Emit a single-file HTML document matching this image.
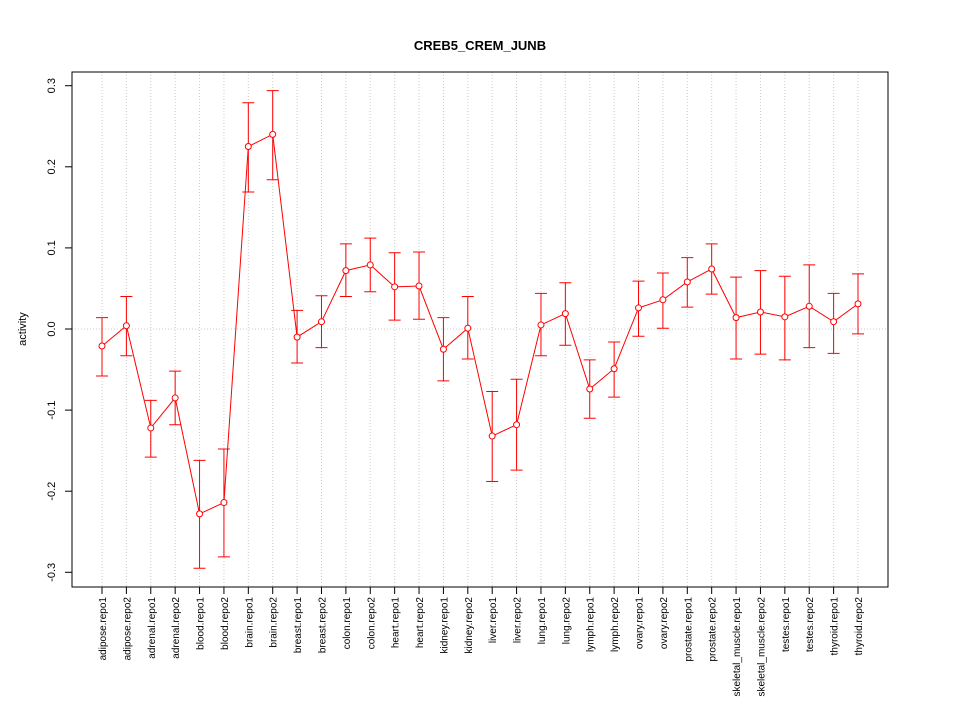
<!DOCTYPE html>
<html><head><meta charset="utf-8"><style>body{margin:0;background:#fff}svg{display:block}text{font-family:"Liberation Sans",sans-serif}</style></head>
<body>
<svg id="chart" width="960" height="720">
<rect width="960" height="720" fill="#fff"/>
<text x="480" y="50" text-anchor="middle" font-size="13" font-weight="bold">CREB5_CREM_JUNB</text>
<text transform="translate(26,329) rotate(-90)" text-anchor="middle" font-size="11">activity</text>
<g id="grid"></g><g id="axes"></g><g id="marks"></g>
<rect x="72" y="72" width="816" height="515" fill="none" stroke="#000"/>
</svg>
<script>
const categories=["adipose.repo1","adipose.repo2","adrenal.repo1","adrenal.repo2","blood.repo1","blood.repo2","brain.repo1","brain.repo2","breast.repo1","breast.repo2","colon.repo1","colon.repo2","heart.repo1","heart.repo2","kidney.repo1","kidney.repo2","liver.repo1","liver.repo2","lung.repo1","lung.repo2","lymph.repo1","lymph.repo2","ovary.repo1","ovary.repo2","prostate.repo1","prostate.repo2","skeletal_muscle.repo1","skeletal_muscle.repo2","testes.repo1","testes.repo2","thyroid.repo1","thyroid.repo2"];
const values=[-0.021,0.004,-0.122,-0.085,-0.228,-0.214,0.225,0.240,-0.010,0.009,0.072,0.079,0.052,0.053,-0.025,0.001,-0.132,-0.118,0.005,0.019,-0.074,-0.049,0.026,0.036,0.058,0.074,0.014,0.021,0.015,0.028,0.009,0.031];
const upper=[0.014,0.040,-0.088,-0.052,-0.162,-0.148,0.279,0.294,0.023,0.041,0.105,0.112,0.094,0.095,0.014,0.040,-0.077,-0.062,0.044,0.057,-0.038,-0.016,0.059,0.069,0.088,0.105,0.064,0.072,0.065,0.079,0.044,0.068];
const lower=[-0.058,-0.033,-0.158,-0.118,-0.295,-0.281,0.169,0.184,-0.042,-0.023,0.040,0.046,0.011,0.012,-0.064,-0.037,-0.188,-0.174,-0.033,-0.020,-0.110,-0.084,-0.009,0.001,0.027,0.043,-0.037,-0.031,-0.038,-0.023,-0.030,-0.006];
const yTicks=[-0.3,-0.2,-0.1,0.0,0.1,0.2,0.3];
const yTickLabels=["-0.3","-0.2","-0.1","0.0","0.1","0.2","0.3"];
const NS="http://www.w3.org/2000/svg";
function y(v){return 329-v*811;}
function x(i){return 102+i*(858-102)/(categories.length-1);}
function mk(t,a,p){const e=document.createElementNS(NS,t);for(const k in a)e.setAttribute(k,a[k]);document.getElementById(p).appendChild(e);return e;}
const grid='grid',axes='axes',marks='marks';
categories.forEach((c,i)=>{
 const g=mk('line',{x1:x(i),x2:x(i),y1:72,y2:587,stroke:'#ccc','stroke-dasharray':'1,2'},grid);
 
 
 const t=mk('line',{x1:x(i),x2:x(i),y1:587,y2:594,stroke:'#000'},axes);
 
 
 const l=mk('text',{transform:`translate(${x(i)+4},597) rotate(-90)`,'text-anchor':'end','font-size':'10'},axes);
 l.textContent=c;
 
 
});
const z=mk('line',{x1:72,x2:888,y1:y(0),y2:y(0),stroke:'#ccc','stroke-dasharray':'1,2'},grid);


yTicks.forEach((v,i)=>{
 const t=mk('line',{x1:65,x2:72,y1:y(v),y2:y(v),stroke:'#000'},axes);
 
 
 const l=mk('text',{transform:`translate(55,${y(v)}) rotate(-90)`,'text-anchor':'middle','font-size':'11'},axes);
 l.textContent=yTickLabels[i];
 
 
});
const yl=mk('line',{x1:72,x2:72,y1:y(-0.3),y2:y(0.3),stroke:'#000'},axes);


const xl=mk('line',{x1:x(0),x2:x(categories.length-1),y1:587,y2:587,stroke:'#000'},axes);


const line=mk('polyline',{points:values.map((v,i)=>x(i)+','+y(v)).join(' '),fill:'none',stroke:'#f00'},marks);


values.forEach((v,i)=>{
 const e=mk('path',{d:`M${x(i)},${y(upper[i])}V${y(lower[i])}M${x(i)-6},${y(upper[i])}H${x(i)+6}M${x(i)-6},${y(lower[i])}H${x(i)+6}`,stroke:'#f00',fill:'none'},marks);
 
 
 const p=mk('circle',{cx:x(i),cy:y(v),r:3,fill:'#fff',stroke:'#f00'},marks);
 
 
});
</script>
</body></html>
